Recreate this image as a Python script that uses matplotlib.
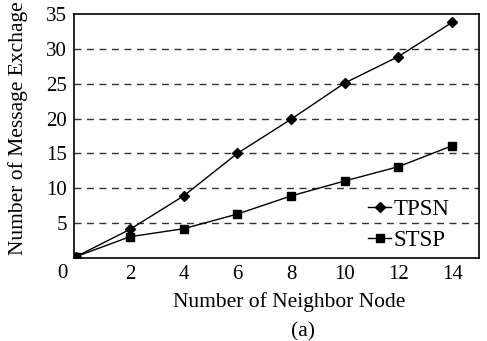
import matplotlib
matplotlib.use("Agg")
import matplotlib.pyplot as plt

plt.rcParams['font.family'] = ['Liberation Serif', 'DejaVu Serif']

# data
x_nodes = [0, 2, 4, 6, 8, 10, 12, 14]
tpsn = [0.2, 4.1, 8.9, 15.0, 19.9, 25.1, 28.9, 33.8]
stsp = [0.2, 3.05, 4.2, 6.3, 8.9, 11.05, 13.1, 16.1]
x_ticks = [2, 4, 6, 8, 10, 12, 14]
y_ticks = [5, 10, 15, 20, 25, 30, 35]

fig = plt.figure(figsize=(4.87, 3.41), dpi=100)
ax = fig.add_axes([74 / 487, 1 - 258 / 341, 405 / 487, 244 / 341])

for yv in y_ticks[:-1]:
    ax.axhline(yv, color='#333333', ls=(0, (5, 4)), lw=1.0, zorder=1)

ax.plot(x_nodes, tpsn, 'k-', marker='D', ms=5.5, lw=1.0, label='TPSN', zorder=3)
ax.plot(x_nodes, stsp, 'k-', marker='s', ms=6, lw=1.0, label='STSP', zorder=3)

ax.set_xlim(-0.08, 15.0)
ax.set_ylim(0, 35)
ax.set_xticks(x_ticks)
ax.set_yticks(y_ticks)
ax.tick_params(length=0, labelsize=15, pad=5)
ax.text(62 / 487, 1 - 273 / 341, '0', fontsize=15, ha='center', va='center',
        transform=fig.transFigure)
for s in ax.spines.values():
    s.set_linewidth(1.2)

leg = ax.legend(loc='center right', frameon=False, fontsize=16.5,
                handlelength=1.0, handletextpad=0.1, labelspacing=0.45,
                bbox_to_anchor=(470 / 487, 1 - 225 / 341),
                bbox_transform=fig.transFigure)

fig.text(289 / 487, 1 - 302 / 341, 'Number of Neighbor Node', fontsize=15.5,
         ha='center', va='center')
fig.text(303 / 487, 1 - 332 / 341, '(a)', fontsize=15.5, ha='center', va='center')
fig.text(18 / 487, 1 - 128 / 341, 'Number of Message Exchage', fontsize=15.5,
         ha='center', va='center', rotation=90)

fig.savefig('out.png', dpi=100)
